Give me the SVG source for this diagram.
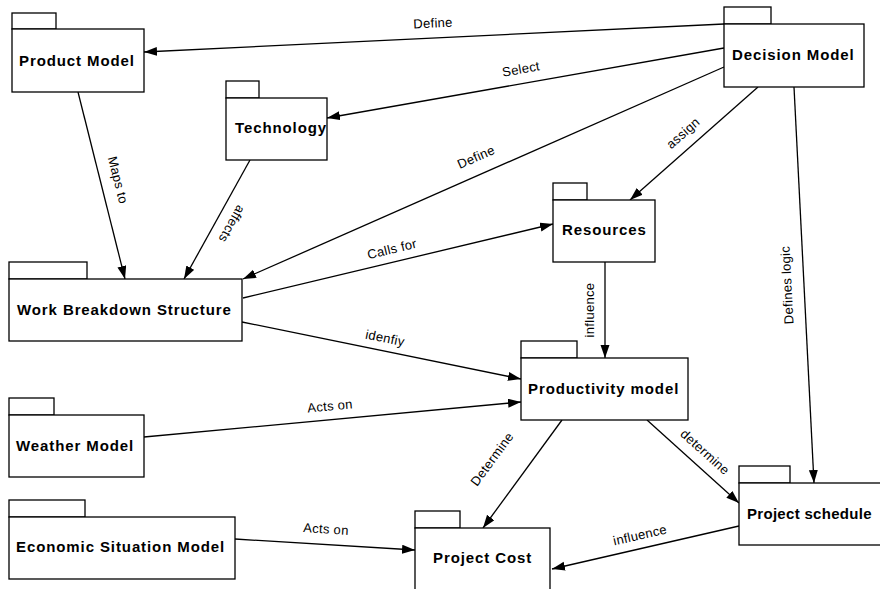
<svg xmlns="http://www.w3.org/2000/svg" width="880" height="589" viewBox="0 0 880 589">
<style>
.box{fill:#fff;stroke:#000;stroke-width:1.3}
.nt{font-family:"Liberation Sans",Arial,sans-serif;font-weight:bold;font-size:15px;letter-spacing:0.9px;fill:#000}
.cn{stroke:#000;stroke-width:1.3;fill:none;marker-end:url(#ah)}
.lb{font-family:"Liberation Sans",Arial,sans-serif;font-size:13px;letter-spacing:0.3px;fill:#000;text-anchor:middle;dominant-baseline:central}
</style>
<defs>
<marker id="ah" markerUnits="userSpaceOnUse" markerWidth="14" markerHeight="10" refX="13" refY="4.5" orient="auto">
<path d="M0,0 L13,4.5 L0,9 z" fill="#000"/>
</marker>
</defs>
<rect width="880" height="589" fill="#fff"/>
<g id="connectors">
<line class="cn" x1="724" y1="24" x2="144" y2="52"/>
<line class="cn" x1="724" y1="48" x2="327" y2="118"/>
<line class="cn" x1="724" y1="67" x2="243" y2="279"/>
<line class="cn" x1="758" y1="87" x2="630" y2="200"/>
<line class="cn" x1="794" y1="87" x2="814" y2="483"/>
<line class="cn" x1="78" y1="92" x2="125" y2="279"/>
<line class="cn" x1="250" y1="160" x2="184" y2="279"/>
<line class="cn" x1="243" y1="298" x2="553" y2="224"/>
<line class="cn" x1="242" y1="322" x2="521" y2="379"/>
<line class="cn" x1="144" y1="437" x2="521" y2="402"/>
<line class="cn" x1="235" y1="539" x2="415" y2="550"/>
<line class="cn" x1="605" y1="262" x2="605" y2="358"/>
<line class="cn" x1="562" y1="420" x2="483" y2="528"/>
<line class="cn" x1="647" y1="420" x2="739" y2="503"/>
<line class="cn" x1="739" y1="526" x2="552" y2="569"/>
<text class="lb" transform="translate(433,23) rotate(-2.8)">Define</text>
<text class="lb" transform="translate(521,69) rotate(-10)">Select</text>
<text class="lb" transform="translate(476,157) rotate(-23.7)">Define</text>
<text class="lb" transform="translate(683,133) rotate(-41.4)">assign</text>
<text class="lb" transform="translate(787,285) rotate(-92.9)">Defines logic</text>
<text class="lb" transform="translate(118,180) rotate(75.8)">Maps to</text>
<text class="lb" transform="translate(232,224) rotate(119)">affects</text>
<text class="lb" transform="translate(392,249) rotate(-13.4)">Calls for</text>
<text class="lb" transform="translate(385,338) rotate(11.5)">idenfiy</text>
<text class="lb" transform="translate(330,406) rotate(-5.3)">Acts on</text>
<text class="lb" transform="translate(326,529) rotate(3.5)">Acts on</text>
<text class="lb" transform="translate(589,310) rotate(-90)">influence</text>
<text class="lb" transform="translate(492,459) rotate(-53.6)">Determine</text>
<text class="lb" transform="translate(705,452) rotate(42)">determine</text>
<text class="lb" transform="translate(640,535) rotate(-13)">influence</text>
</g>
<g id="product-model">
<rect class="box" x="12" y="13" width="44" height="16"/>
<rect class="box" x="12" y="29" width="132" height="63"/>
<text class="nt" x="19" y="66">Product Model</text>
</g>
<g id="technology">
<rect class="box" x="226" y="81" width="33" height="17"/>
<rect class="box" x="226" y="98" width="101" height="62"/>
<text class="nt" x="235" y="133">Technology</text>
</g>
<g id="decision-model">
<rect class="box" x="724" y="7" width="47" height="17"/>
<rect class="box" x="724" y="24" width="140" height="63"/>
<text class="nt" x="732" y="60">Decision Model</text>
</g>
<g id="resources">
<rect class="box" x="553" y="183" width="34" height="17"/>
<rect class="box" x="553" y="200" width="102" height="62"/>
<text class="nt" x="562" y="235">Resources</text>
</g>
<g id="work-breakdown-structure">
<rect class="box" x="9" y="262" width="78" height="17"/>
<rect class="box" x="9" y="279" width="233" height="62"/>
<text class="nt" x="17" y="315">Work Breakdown Structure</text>
</g>
<g id="productivity-model">
<rect class="box" x="521" y="341" width="56" height="17"/>
<rect class="box" x="521" y="358" width="167" height="62"/>
<text class="nt" x="528" y="394">Productivity model</text>
</g>
<g id="weather-model">
<rect class="box" x="9" y="398" width="45" height="17"/>
<rect class="box" x="9" y="415" width="135" height="62"/>
<text class="nt" x="16" y="451">Weather Model</text>
</g>
<g id="project-schedule">
<rect class="box" x="739" y="466" width="51" height="17"/>
<rect class="box" x="739" y="483" width="160" height="62"/>
<text class="nt" x="747" y="519" style="letter-spacing:0.3px">Project schedule</text>
</g>
<g id="economic-situation-model">
<rect class="box" x="9" y="500" width="76" height="17"/>
<rect class="box" x="9" y="517" width="226" height="62"/>
<text class="nt" x="16" y="552">Economic Situation Model</text>
</g>
<g id="project-cost">
<rect class="box" x="415" y="511" width="45" height="17"/>
<rect class="box" x="415" y="528" width="135" height="70"/>
<text class="nt" x="433" y="563">Project Cost</text>
</g>
</svg>
